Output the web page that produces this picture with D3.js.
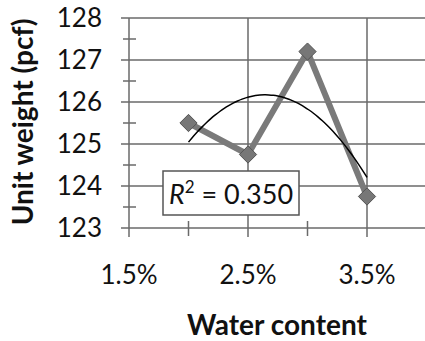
<!DOCTYPE html>
<html>
<head>
<meta charset="utf-8">
<script src="https://cdn.jsdelivr.net/npm/d3@7"></script>
<style>
  body { margin: 0; background: #fff; }
  svg { display: block; }
  text { font-family: Lato, "Open Sans", sans-serif; fill: #111; }
</style>
</head>
<body>
<div id="chart"></div>
<script>
var width = 425,
    height = 341;

// data
var waterContent = [0.020, 0.025, 0.030, 0.035];
var unitWeight = [125.5, 124.75, 127.2, 123.75];
var xTicks = [0.015, 0.025, 0.035];
var xMinorTicks = [0.020, 0.030, 0.040];
var yTicks = [123, 124, 125, 126, 127, 128];
var yMinorTicks = [123.5, 124.5, 125.5, 126.5, 127.5];
var rSquaredLabel = "0.350";

var svg = d3.select('#chart').append('svg')
    .attr('width', width)
    .attr('height', height);

// plot runs off the right edge like the cropped original
var x = d3.scaleLinear()
    .domain([0.015, 0.045])
    .range([129, 486]);

var y = d3.scaleLinear()
    .domain([123, 128])
    .range([228, 18]);

var gridColor = '#6a6a6a';

// horizontal grid + major ticks crossing the axis
svg.append('g').selectAll('line')
    .data(yTicks)
    .enter().append('line')
    .attr('x1', 121).attr('x2', width)
    .attr('y1', function(d) { return y(d); })
    .attr('y2', function(d) { return y(d); })
    .attr('stroke', gridColor)
    .attr('stroke-width', 1.5);

// vertical grid
svg.append('g').selectAll('line')
    .data(xTicks)
    .enter().append('line')
    .attr('x1', function(d) { return x(d); })
    .attr('x2', function(d) { return x(d); })
    .attr('y1', y(128)).attr('y2', 237)
    .attr('stroke', gridColor)
    .attr('stroke-width', 1.5);

// minor ticks
svg.append('g').selectAll('line')
    .data(yMinorTicks)
    .enter().append('line')
    .attr('x1', 123).attr('x2', 136)
    .attr('y1', function(d) { return y(d); })
    .attr('y2', function(d) { return y(d); })
    .attr('stroke', gridColor)
    .attr('stroke-width', 1.5);

svg.append('g').selectAll('line')
    .data(xMinorTicks)
    .enter().append('line')
    .attr('x1', function(d) { return x(d); })
    .attr('x2', function(d) { return x(d); })
    .attr('y1', 221).attr('y2', 236)
    .attr('stroke', gridColor)
    .attr('stroke-width', 1.5);

// tick labels
svg.append('g').selectAll('text')
    .data(yTicks)
    .enter().append('text')
    .attr('x', 102)
    .attr('y', function(d) { return y(d) + 9; })
    .attr('text-anchor', 'end')
    .attr('font-size', '26px')
    .text(function(d) { return d; });

svg.append('g').selectAll('text')
    .data(xTicks)
    .enter().append('text')
    .attr('x', function(d) { return x(d); })
    .attr('y', 284)
    .attr('text-anchor', 'middle')
    .attr('font-size', '26px')
    .text(d3.format('.1%'));

// axis titles
svg.append('text')
    .attr('transform', 'translate(33,' + 122 + ') rotate(-90)')
    .attr('text-anchor', 'middle')
    .attr('font-size', '28px')
    .attr('font-weight', 'bold')
    .text('Unit weight (pcf)');

svg.append('text')
    .attr('x', 277)
    .attr('y', 335)
    .attr('text-anchor', 'middle')
    .attr('font-size', '28px')
    .attr('font-weight', 'bold')
    .text('Water content');

// data series
var pts = waterContent.map(function(d, i) { return [d, unitWeight[i]]; });

var line = d3.line()
    .x(function(d) { return x(d[0]); })
    .y(function(d) { return y(d[1]); });

svg.append('path')
    .datum(pts)
    .attr('d', line)
    .attr('fill', 'none')
    .attr('stroke', '#7a7a7a')
    .attr('stroke-width', 6)
    .attr('stroke-linejoin', 'miter');

svg.append('g').selectAll('path')
    .data(pts)
    .enter().append('path')
    .attr('d', d3.symbol(d3.symbolDiamond2, 190)())
    .attr('transform', function(d) { return 'translate(' + x(d[0]) + ',' + y(d[1]) + ')'; })
    .attr('fill', '#777')
    .attr('stroke', '#555')
    .attr('stroke-width', 1);

// 2nd order polynomial trendline (least squares on the series)
var mx = d3.mean(waterContent);
var u = waterContent.map(function(d) { return d - mx; });
var u2m = d3.mean(u, function(d) { return d * d; });
var p2 = u.map(function(d) { return d * d - u2m; });
var b1 = d3.sum(u, function(d, i) { return d * unitWeight[i]; }) / d3.sum(u, function(d) { return d * d; });
var b2 = d3.sum(p2, function(d, i) { return d * unitWeight[i]; }) / d3.sum(p2, function(d) { return d * d; });
var my = d3.mean(unitWeight);
var fit = function(xx) { var t = xx - mx; return my + b1 * t + b2 * (t * t - u2m); };

var trend = d3.range(0, 41).map(function(i) {
    var xx = waterContent[0] + (waterContent[3] - waterContent[0]) * i / 40;
    return [xx, fit(xx)];
});

svg.append('path')
    .datum(trend)
    .attr('d', line.curve(d3.curveBasis))
    .attr('fill', 'none')
    .attr('stroke', '#000')
    .attr('stroke-width', 1.5);

// R² box
svg.append('rect')
    .attr('x', 163).attr('y', 171)
    .attr('width', 136).attr('height', 44)
    .attr('fill', '#fff')
    .attr('stroke', '#555')
    .attr('stroke-width', 1.5);

var rt = svg.append('text')
    .attr('x', 231)
    .attr('y', 204)
    .attr('text-anchor', 'middle')
    .attr('font-size', '27px');
rt.append('tspan').attr('font-style', 'italic').text('R');
rt.append('tspan').attr('font-size', '17px').attr('dy', -11).text('2');
rt.append('tspan').attr('dy', 11).text(' = ' + rSquaredLabel);
</script>
</body>
</html>
